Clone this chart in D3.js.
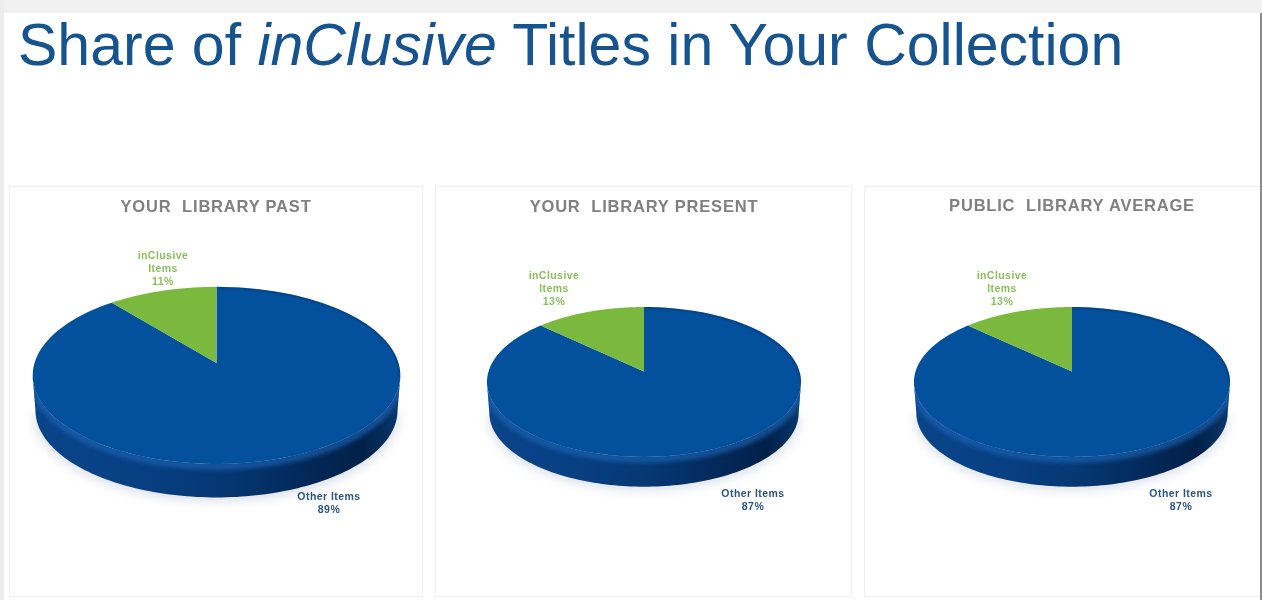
<!DOCTYPE html>
<html><head><meta charset="utf-8">
<script src="https://cdn.jsdelivr.net/npm/d3@7"></script>
<style>html,body{margin:0;padding:0;background:#fff;overflow:hidden}svg{display:block}</style>
</head><body><svg id="c" width="1262" height="600"></svg>
<script>
const chartTitles = ["YOUR  LIBRARY PAST", "YOUR  LIBRARY PRESENT", "PUBLIC  LIBRARY AVERAGE"];
const sliceNames = ["Other Items", "inClusive Items"];
const otherShare = [89, 87, 87];
const inclusiveShare = [11, 13, 13];

// layout, separate from the values
const panels = [
  {x:9,  y:186, w:413, h:410, titleX:216, titleY:212, cx:216.5, cy:363, rx:182, ry:86.8, depth:35, incX:163, incY:259, othX:329, othY:500},
  {x:435,y:186, w:416, h:410, titleX:644, titleY:212, cx:644,   cy:371.5, rx:155.5, ry:73.5, depth:31, incX:554, incY:279, othX:753, othY:497},
  {x:864,y:186, w:400, h:410, titleX:1072,titleY:211, cx:1072,  cy:371.5, rx:156.5, ry:73.5, depth:31, incX:1002,incY:279, othX:1181,othY:497}
];
const k = 0.14, TAU = Math.PI * 2;

const svg = d3.select("#c");
const defs = svg.append("defs");
const blur = (id, s) => defs.append("filter").attr("id", id)
  .attr("x","-20%").attr("y","-20%").attr("width","140%").attr("height","140%")
  .append("feGaussianBlur").attr("stdDeviation", s);
blur("b5", 5); blur("b3", 2.6); blur("t", 0.4); blur("b1", 1.2);

svg.append("rect").attr("width",1262).attr("height",600).attr("fill","#fff");

// title
const title = svg.append("text").attr("x",18).attr("y",65)
  .attr("font-family","'Liberation Sans',Arial,sans-serif").attr("font-size",59)
  .attr("fill","#12538f").attr("filter","url(#t)");
title.append("tspan").text("Share of ");
title.append("tspan").attr("font-style","italic").text("inClusive");
title.append("tspan").text(" Titles in Your Collection");

const pie = d3.pie().sort(null).value(d => d.value);
const line = d3.line().x(d => d[0]).y(d => d[1]);

panels.forEach((p, i) => {
  const g = svg.append("g");
  g.append("rect").attr("x",p.x+.5).attr("y",p.y+.5).attr("width",p.w).attr("height",p.h)
    .attr("fill","#fff").attr("stroke","#efefef");

  g.append("text").attr("x",p.titleX).attr("y",p.titleY).attr("text-anchor","middle")
    .attr("xml:space","preserve").style("white-space","pre")
    .attr("font-family","'Liberation Sans',Arial,sans-serif").attr("font-weight",700)
    .attr("font-size",16.5).attr("letter-spacing",0.8).attr("fill","#808080").attr("filter","url(#t)")
    .text(chartTitles[i]);

  const arcs = pie([{name:sliceNames[0],value:otherShare[i]},{name:sliceNames[1],value:inclusiveShare[i]}]);

  // perspective projection of the pie disc on to the picture plane
  const proj = (a, dy = 0, shrink = 1) => {
    const u = Math.sin(a), v = -Math.cos(a), s = 1 / (1 - k * v);
    return [p.cx + p.rx * shrink * u * s, p.cy + p.ry * shrink * v * s + dy];
  };
  const rim = (a0, a1, dy, shrink) => d3.range(0, 121).map(t => proj(a0 + (a1 - a0) * t / 120, dy, shrink));
  const wedge = d => line([[p.cx, p.cy], ...rim(d.startAngle, d.endAngle, 0, 1)]) + "Z";

  const right = Math.acos(-k), left = TAU - right;
  const front = rim(right, left, 0, 1);
  const lower = rim(left, right, p.depth, 0.985);
  const side = line([...front, ...lower]) + "Z";

  // soft shadow
  g.append("path").attr("d", line(rim(right, left, p.depth + 3, 1)))
    .attr("fill","#c3cedb").attr("opacity",.55).attr("filter","url(#b5)");

  // side wall gradient
  const gid = "side" + i;
  const lg = defs.append("linearGradient").attr("id",gid)
    .attr("gradientUnits","userSpaceOnUse")
    .attr("x1",p.cx-p.rx).attr("x2",p.cx+p.rx).attr("y1",0).attr("y2",0);
  [[0,"#0a4489"],[.3,"#073f82"],[.55,"#053670"],[.78,"#032655"],[.9,"#022148"],[1,"#08376d"]]
    .forEach(s => lg.append("stop").attr("offset",s[0]).attr("stop-color",s[1]));
  g.append("path").attr("d",side).attr("fill",`url(#${gid})`);

  // highlight under the front rim, clipped to the wall
  const cid = "clip" + i;
  defs.append("clipPath").attr("id",cid).append("path").attr("d",side);
  g.append("g").attr("clip-path",`url(#${cid})`).append("path")
    .attr("d", line(rim(right, left, 2, 1))).attr("fill","none")
    .attr("stroke","#1a62b2").attr("stroke-width",7).attr("opacity",.8).attr("filter","url(#b3)");

  // top faces
  const colors = ["#03509c", "#7ab83e"];
  g.selectAll("path.slice").data(arcs).join("path").attr("class","slice")
    .attr("d", wedge).attr("fill",(d,j)=>colors[j]);

  // darker back edge of the blue slice, kept inside the face
  const fid = "face" + i;
  defs.append("clipPath").attr("id",fid).append("path").attr("d", wedge(arcs[0]));
  g.append("g").attr("clip-path",`url(#${fid})`).append("path")
    .attr("d", line(rim(0, right, 0, 1))).attr("fill","none")
    .attr("stroke","#022f66").attr("stroke-width",3).attr("opacity",.45).attr("filter","url(#b1)");

  // labels
  const lab = (x, y, lines, fill) => {
    const t = g.append("text").attr("text-anchor","middle")
      .attr("font-family","'Liberation Sans',Arial,sans-serif").attr("font-size",10.5).attr("font-weight",700)
      .attr("letter-spacing",0.45).attr("fill",fill).attr("filter","url(#t)");
    lines.forEach((s,n)=>t.append("tspan").attr("x",x).attr("y",y+n*13).text(s));
  };
  const parts = sliceNames[1].split(" ");
  lab(p.incX, p.incY, [parts[0], parts[1], inclusiveShare[i] + "%"], "#8abf5a");
  lab(p.othX, p.othY, [sliceNames[0], otherShare[i] + "%"], "#2a5583");
});

// slide frame on top of the panels
svg.append("rect").attr("width",1262).attr("height",13).attr("fill","#f1f1f1");
svg.append("rect").attr("width",4).attr("height",600).attr("fill","#ececec");
svg.append("rect").attr("x",1260).attr("y",13).attr("width",2).attr("height",587).attr("fill","#8c8c8c");
</script></body></html>
